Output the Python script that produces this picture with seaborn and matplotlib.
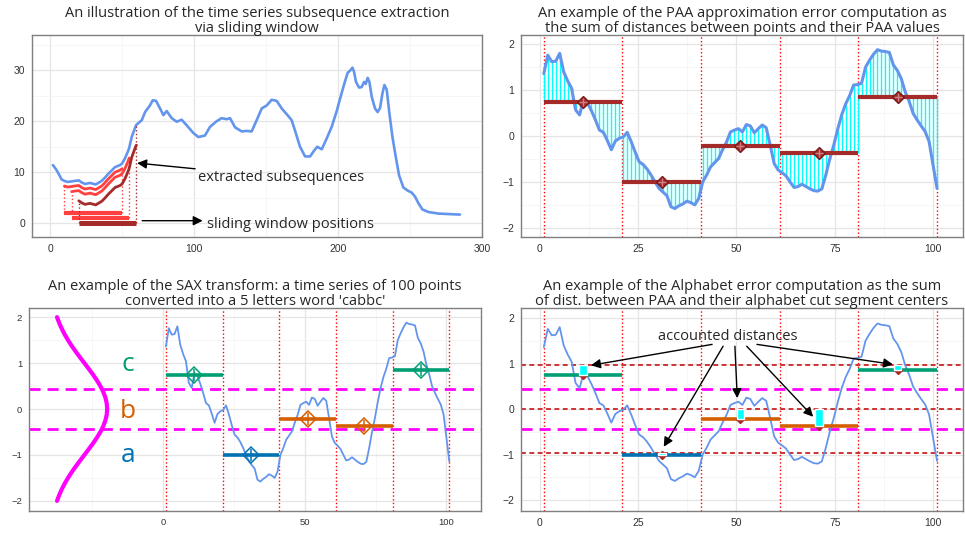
import numpy as np
import matplotlib
matplotlib.use('Agg')
import matplotlib.pyplot as plt
import seaborn as sns
from matplotlib.ticker import MultipleLocator

# long series (panel 1)
long_x = [2, 4.6, 8, 10, 12, 15, 17, 20, 22, 24.3, 27.8, 31.7, 35.9, 38, 40.5, 43, 45.1, 48.6, 50,
          52, 54.4, 55, 56.7, 58, 59.7, 60, 63.7, 66, 69.4, 71.3, 73.6, 76.4, 78.7, 81, 84.5, 88,
          91.4, 94.9, 99.5, 103, 107.6, 111.1, 115.7, 119.2, 122.7, 125, 128.5, 133.1, 136.6, 140,
          143.5, 147, 150.5, 153.9, 157.4, 160.9, 165.5, 167.8, 170.1, 173.6, 177.1, 180.6, 183.3,
          185.6, 188.7, 192.1, 195.6, 199.1, 201.4, 204.4, 206.7, 208.3, 210, 211.1, 212.5, 214.6,
          216.4, 218.1, 219.2, 220.6, 221.8, 223.4, 225.7, 227.5, 229.2, 230.8, 232.2, 233.8, 235.7,
          237.8, 240.1, 242.4, 245.4, 248.4, 251.2, 253.5, 255.9, 258.6, 262.8, 269.7, 276.7, 284.7]
long_y = [11.4, 10.4, 8.6, 8.3, 8.1, 8.2, 8.3, 8.4, 8.0, 7.7, 7.9, 7.6, 8.3, 8.9, 9.7, 10.4, 11.0, 11.4, 11.7,
          12.7, 14.3, 14.8, 16.9, 17.9, 19.2, 19.3, 20.2, 21.8, 23.1, 24.1, 24.0, 22.5, 21.2, 22.0, 20.6, 19.9,
          20.3, 19.2, 17.7, 16.9, 17.2, 18.9, 20.0, 20.6, 20.4, 20.6, 18.8, 18.0, 18.1, 18.0,
          20.2, 22.5, 23.1, 24.2, 24.0, 22.5, 21.0, 20.2, 18.2, 15.0, 13.1, 13.1, 14.2,
          15.0, 14.5, 16.6, 18.9, 22.0, 24.4, 27.4, 29.5, 29.9, 30.5, 29.7, 27.7, 26.6,
          26.7, 27.7, 27.3, 28.5, 27.7, 24.8, 22.5, 21.8, 22.6, 25.4, 27.1, 26.2, 21.5,
          16.9, 13.0, 9.4, 7.0, 6.4, 6.0, 5.2, 3.9, 2.7, 2.2, 1.9, 1.8, 1.7]

# sliding windows
win_start = [10, 15, 20]
win_len = 40
win_shift = [1.0, 2.0, 4.0]
win_level = [2, 1, 0]
win_color = ['#FF4040', '#FF4040', '#A52A2A']

# 100 point series (panels 2-4)
ts = [1.36, 1.76, 1.62, 1.63, 1.80, 1.40, 1.20, 1.04, 0.57, 0.46,
      0.78, 0.72, 0.55, 0.35, 0.13, 0.08, -0.10, -0.30, -0.11, -0.05,
      -0.02, 0.08, -0.12, -0.35, -0.56, -0.62, -0.72, -0.85, -1.00, -1.14,
      -1.22, -1.30, -1.54, -1.58, -1.52, -1.48, -1.42, -1.45, -1.50, -1.36,
      -1.00, -0.85, -0.67, -0.58, -0.49, -0.30, -0.13, 0.09, 0.13, 0.16,
      0.09, 0.25, 0.22, 0.07, 0.16, 0.24, 0.18, -0.20, -0.60, -0.74,
      -0.80, -0.87, -1.00, -1.12, -1.10, -1.05, -1.10, -1.15, -1.19, -1.20,
      -1.15, -0.85, -0.50, -0.20, 0.15, 0.46, 0.70, 0.88, 1.11, 1.12,
      1.15, 1.50, 1.65, 1.78, 1.88, 1.85, 1.84, 1.82, 1.55, 1.43,
      1.25, 0.96, 0.75, 0.49, 0.35, 0.22, 0.10, -0.12, -0.63, -1.14]
seg_edges = [1, 21, 41, 61, 81, 101]
paa_vals = [0.74, -1.0, -0.22, -0.38, 0.86]
sax_word = 'cabbc'
cuts = [-0.43, 0.43]
letter_center = {'a': -0.97, 'b': 0.0, 'c': 0.97}
letter_color = {'a': '#0072B2', 'b': '#D55E00', 'c': '#009E73'}

# normal density drawn sideways in panel 3
gauss_y = [-2, -1.875, -1.75, -1.625, -1.5, -1.375, -1.25, -1.125, -1, -0.875, -0.75, -0.625,
           -0.5, -0.375, -0.25, -0.125, 0, 0.125, 0.25, 0.375, 0.5, 0.625, 0.75, 0.875,
           1, 1.125, 1.25, 1.375, 1.5, 1.625, 1.75, 1.875, 2]
gauss_x = [-37.43, -36.67, -35.77, -34.74, -33.56, -32.25, -30.83, -29.33, -27.78, -26.24,
           -24.75, -23.37, -22.14, -21.12, -20.36, -19.90, -19.74, -19.90, -20.36, -21.12,
           -22.14, -23.37, -24.75, -26.24, -27.78, -29.33, -30.83, -32.25, -33.56, -34.74,
           -35.77, -36.67, -37.43]

sns.set_style('white')
plt.rcParams['font.family'] = ['Open Sans', 'DejaVu Sans']

BLUE = '#6495ED'
BROWN = '#A52A2A'
TITLE_FS = 10.5

fig = plt.figure(figsize=(9.65, 5.33), dpi=100)
ax1 = fig.add_axes([0.0332, 0.5553, 0.4663, 0.3790])
ax2 = fig.add_axes([0.5399, 0.5553, 0.4580, 0.3790])
ax3 = fig.add_axes([0.0301, 0.0413, 0.4684, 0.3809])
ax4 = fig.add_axes([0.5399, 0.0413, 0.4580, 0.3809])


def style(ax, xmaj, ymaj, fs=7.5):
    ax.xaxis.set_major_locator(MultipleLocator(xmaj))
    ax.xaxis.set_minor_locator(MultipleLocator(xmaj / 2))
    ax.yaxis.set_major_locator(MultipleLocator(ymaj))
    ax.yaxis.set_minor_locator(MultipleLocator(ymaj / 2))
    ax.grid(which='major', color='#E5E5E5', lw=0.9, zorder=0)
    ax.grid(which='minor', color='#F5F5F5', lw=0.6, zorder=0)
    ax.set_axisbelow(True)
    for sp in ax.spines.values():
        sp.set_color('#7F7F7F')
        sp.set_linewidth(1.0)
    ax.tick_params(which='major', length=3, color='#7F7F7F', labelsize=fs,
                   labelcolor='#333333', pad=2)
    ax.tick_params(which='minor', length=0)
    for lab in ax.get_xticklabels() + ax.get_yticklabels():
        lab.set_family(['Liberation Sans', 'DejaVu Sans'])
    ax.set_xlabel('')
    ax.set_ylabel('')


arrow = dict(arrowstyle='-|>', color='black', lw=1.0, mutation_scale=14, shrinkA=0, shrinkB=0)
tx = np.linspace(1, 101, len(ts))
ts_arr = np.array(ts)

# ---- panel 1
lx = np.array(long_x)
ly = np.array(long_y)
sns.lineplot(x=lx, y=ly, ax=ax1, color=BLUE, lw=1.9)
for k, (s, d, lev, c) in enumerate(zip(win_start, win_shift, win_level, win_color)):
    m = (lx >= s) & (lx <= s + win_len)
    sns.lineplot(x=lx[m], y=ly[m] - d, ax=ax1, color=c, lw=2.0)
    ax1.plot([s, s + win_len], [lev, lev], color=c, lw=3.0 if k < 2 else 3.6, solid_capstyle='butt')
    top_r = ly[m][-1] if k == len(win_start) - 1 else ly[m][-1] - d
    ax1.vlines([s, s + win_len], [lev, lev], [ly[m][0] - d, top_r], colors=c, linestyles=':', lw=1.0)
ax1.annotate('extracted subsequences', xy=(60.5, 11.8), xytext=(103, 9.0), fontsize=10.5,
             va='center', ha='left', arrowprops=arrow)
ax1.annotate('', xy=(106, 0.5), xytext=(64, 0.5), arrowprops=arrow)
ax1.text(109, -0.3, 'sliding window positions', fontsize=10.5, va='center', ha='left')
ax1.set_xlim(-12.5, 300)
ax1.set_ylim(-2.7, 36.9)
ax1.set_title('An illustration of the time series subsequence extraction\nvia sliding window',
              fontsize=TITLE_FS, pad=2, linespacing=1.0)
style(ax1, 100, 10)

# ---- panel 2
seg_idx = np.minimum(np.arange(len(ts)) // 20, 4)
paa_per_pt = np.array(paa_vals)[seg_idx]
ax2.vlines(tx, paa_per_pt, ts_arr, colors='cyan', lw=1.0, zorder=2)
for e in seg_edges:
    ax2.axvline(e, color='red', ls=':', lw=1.0, zorder=1)
sns.lineplot(x=tx, y=ts_arr, ax=ax2, color=BLUE, lw=2.2, zorder=3)
for k, v in enumerate(paa_vals):
    ax2.plot([seg_edges[k], seg_edges[k + 1]], [v, v], color=BROWN, lw=3.0, zorder=4,
             solid_capstyle='butt')
    c = seg_edges[k] + 10
    ax2.plot(c, v, marker='D', ms=6, color=BROWN, mec='#7A1A1A', zorder=5)
    ax2.plot(c, v, marker='+', ms=6, color='#D08080', mew=1, zorder=6)
ax2.set_xlim(-4.8, 107.6)
ax2.set_ylim(-2.2, 2.2)
ax2.set_title('An example of the PAA approximation error computation as\n'
              'the sum of distances between points and their PAA values',
              fontsize=TITLE_FS, pad=2, linespacing=1.0)
style(ax2, 25, 1)

# ---- panel 3
ax3.plot(gauss_x, gauss_y, color='magenta', lw=3.0, zorder=3)
for cval in cuts:
    ax3.axhline(cval, color='magenta', ls=(0, (4, 2.5)), lw=2.0, zorder=2)
for e in seg_edges:
    ax3.axvline(e, color='red', ls=':', lw=1.0, zorder=1)
sns.lineplot(x=tx, y=ts_arr, ax=ax3, color=BLUE, lw=1.3, zorder=3)
for let in 'abc':
    ax3.text(-12.5, letter_center[let] + (0.0 if let != 'b' else -0.05) - 0.05 * (let == 'a'),
             let, color=letter_color[let], fontsize=19, ha='center', va='center')
for k, (v, let) in enumerate(zip(paa_vals, sax_word)):
    col = letter_color[let]
    ax3.plot([seg_edges[k], seg_edges[k + 1]], [v, v], color=col, lw=2.6, zorder=4,
             solid_capstyle='butt')
    c = seg_edges[k] + 10
    ax3.plot(c, v, marker='D', ms=8, mfc='none', mec=col, mew=1.1, zorder=5)
    ax3.plot(c, v, marker='+', ms=8, color=col, mew=1.1, zorder=5)
ax3.set_xlim(-47.3, 112.2)
ax3.set_ylim(-2.22, 2.2)
ax3.set_title("An example of the SAX transform: a time series of 100 points\n"
              "converted into a 5 letters word 'cabbc'", fontsize=TITLE_FS, pad=2, linespacing=1.0)
style(ax3, 50, 1, fs=6.8)

# ---- panel 4
for let in 'abc':
    ax4.axhline(letter_center[let], color='#CD3333', ls=(0, (2.5, 1.8)), lw=1.4, zorder=2)
for cval in cuts:
    ax4.axhline(cval, color='magenta', ls=(0, (4, 2.5)), lw=2.0, zorder=2)
for e in seg_edges:
    ax4.axvline(e, color='red', ls=':', lw=1.0, zorder=1)
sns.lineplot(x=tx, y=ts_arr, ax=ax4, color=BLUE, lw=1.3, zorder=3)
for k, (v, let) in enumerate(zip(paa_vals, sax_word)):
    col = letter_color[let]
    ax4.plot([seg_edges[k], seg_edges[k + 1]], [v, v], color=col, lw=2.6, zorder=4,
             solid_capstyle='butt')
    c = seg_edges[k] + 10
    ax4.plot(c, v, marker='D', ms=4, color=BROWN, zorder=4.5)
    ax4.bar(c, letter_center[let] - v, bottom=v, width=1.9, color='cyan', zorder=5)
ax4.text(47.8, 1.6, 'accounted distances', fontsize=10.5, ha='center', va='center')
tails = [(43.8, 1.42), (46.6, 1.38), (49.6, 1.38), (52.6, 1.38), (55.2, 1.42)]
heads = [(13.0, 0.96), (31.5, -0.83), (50.2, 0.24), (69.5, -0.17), (89.8, 0.98)]
for t, h in zip(tails, heads):
    ax4.annotate('', xy=h, xytext=t, arrowprops=arrow)
ax4.set_xlim(-4.8, 107.6)
ax4.set_ylim(-2.24, 2.22)
ax4.set_title('An example of the Alphabet error computation as the sum\n'
              'of dist. between PAA and their alphabet cut segment centers',
              fontsize=TITLE_FS, pad=2, linespacing=1.0)
style(ax4, 25, 1)

fig.savefig('out.png', dpi=100)
